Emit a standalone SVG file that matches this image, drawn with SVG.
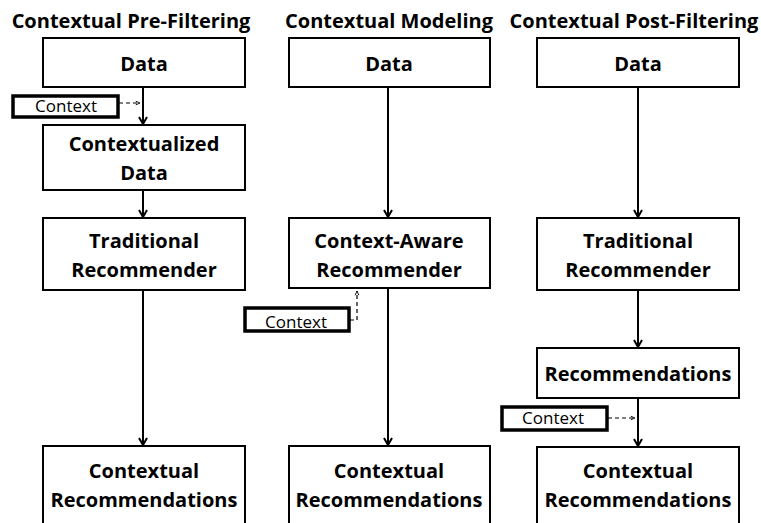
<svg xmlns="http://www.w3.org/2000/svg" width="761" height="523" viewBox="0 0 761 523">
  <style>
    .box { fill: #fff; stroke: #000; stroke-width: 2; }
    .ctx { fill: #fff; stroke: #000; stroke-width: 3.5; }
    .title { font-family: "Open Sans", Lato, sans-serif; font-weight: bold; font-size: 20px; text-anchor: middle; fill: #000; }
    .lbl { font-family: "Open Sans", Lato, sans-serif; font-weight: bold; font-size: 20px; text-anchor: middle; fill: #000; }
    .ctxt { font-family: "Open Sans", Lato, sans-serif; font-size: 17px; text-anchor: middle; fill: #000; }
    .flow { stroke: #000; stroke-width: 2; fill: none; marker-end: url(#head); }
    .dash { stroke: #000; stroke-width: 1.2; fill: none; stroke-dasharray: 4 3; marker-end: url(#dhead); }
  </style>
  <defs>
    <marker id="head" viewBox="0 0 10 10" refX="9" refY="5" markerWidth="10" markerHeight="10" markerUnits="userSpaceOnUse" orient="auto">
      <path d="M2,1 L9,5 L2,9" fill="none" stroke="#000" stroke-width="2"/>
    </marker>
    <marker id="dhead" viewBox="0 0 10 10" refX="9" refY="5" markerWidth="6" markerHeight="6" markerUnits="userSpaceOnUse" orient="auto">
      <path d="M2,2 L9,5 L2,8" fill="none" stroke="#000" stroke-width="1.5"/>
    </marker>
  </defs>

  <!-- column titles -->
  <text class="title" x="131" y="28">Contextual Pre-Filtering</text>
  <text class="title" x="389" y="28">Contextual Modeling</text>
  <text class="title" x="634" y="28">Contextual Post-Filtering</text>

  <!-- connectors -->
  <g id="connectors">
    <line class="flow" x1="143" y1="88" x2="143" y2="124"/>
    <line class="flow" x1="143" y1="191" x2="143" y2="217"/>
    <line class="flow" x1="143" y1="291" x2="143" y2="445"/>
    <line class="dash" x1="119" y1="103" x2="140" y2="103"/>

    <line class="flow" x1="388" y1="88" x2="388" y2="217"/>
    <line class="flow" x1="388" y1="289" x2="388" y2="445"/>
    <polyline class="dash" points="350,320 357,320 357,291"/>

    <line class="flow" x1="638" y1="88" x2="638" y2="217"/>
    <line class="flow" x1="638" y1="291" x2="638" y2="347"/>
    <line class="flow" x1="638" y1="399" x2="638" y2="446"/>
    <line class="dash" x1="608" y1="418" x2="635" y2="418"/>
  </g>

  <!-- Pre-filtering column -->
  <g id="pre-data">
    <rect class="box" x="43" y="38" width="202" height="49"/>
    <text class="lbl" x="144" y="71">Data</text>
  </g>
  <g id="pre-context">
    <rect class="ctx" x="13" y="96" width="105" height="21"/>
    <text class="ctxt" x="66" y="112">Context</text>
  </g>
  <g id="pre-contextualized">
    <rect class="box" x="43" y="125" width="202" height="65"/>
    <text class="lbl" x="144" y="151">Contextualized</text>
    <text class="lbl" x="144" y="180">Data</text>
  </g>
  <g id="pre-recommender">
    <rect class="box" x="43" y="218" width="202" height="72"/>
    <text class="lbl" x="144" y="248">Traditional</text>
    <text class="lbl" x="144" y="277">Recommender</text>
  </g>
  <g id="pre-output">
    <rect class="box" x="43" y="446" width="202" height="90"/>
    <text class="lbl" x="144" y="478">Contextual</text>
    <text class="lbl" x="144" y="507">Recommendations</text>
  </g>

  <!-- Modeling column -->
  <g id="mod-data">
    <rect class="box" x="289" y="38" width="201" height="49"/>
    <text class="lbl" x="389" y="71">Data</text>
  </g>
  <g id="mod-recommender">
    <rect class="box" x="289" y="218" width="201" height="70"/>
    <text class="lbl" x="389" y="248">Context-Aware</text>
    <text class="lbl" x="389" y="277">Recommender</text>
  </g>
  <g id="mod-context">
    <rect class="ctx" x="245" y="308" width="104" height="23"/>
    <text class="ctxt" x="296" y="328">Context</text>
  </g>
  <g id="mod-output">
    <rect class="box" x="289" y="446" width="201" height="90"/>
    <text class="lbl" x="389" y="478">Contextual</text>
    <text class="lbl" x="389" y="507">Recommendations</text>
  </g>

  <!-- Post-filtering column -->
  <g id="post-data">
    <rect class="box" x="537" y="38" width="202" height="49"/>
    <text class="lbl" x="638" y="71">Data</text>
  </g>
  <g id="post-recommender">
    <rect class="box" x="537" y="218" width="202" height="72"/>
    <text class="lbl" x="638" y="248">Traditional</text>
    <text class="lbl" x="638" y="277">Recommender</text>
  </g>
  <g id="post-recommendations">
    <rect class="box" x="537" y="348" width="202" height="50"/>
    <text class="lbl" x="638" y="381">Recommendations</text>
  </g>
  <g id="post-context">
    <rect class="ctx" x="502" y="407" width="105" height="23"/>
    <text class="ctxt" x="553" y="424">Context</text>
  </g>
  <g id="post-output">
    <rect class="box" x="537" y="447" width="202" height="90"/>
    <text class="lbl" x="638" y="478">Contextual</text>
    <text class="lbl" x="638" y="507">Recommendations</text>
  </g>
</svg>
